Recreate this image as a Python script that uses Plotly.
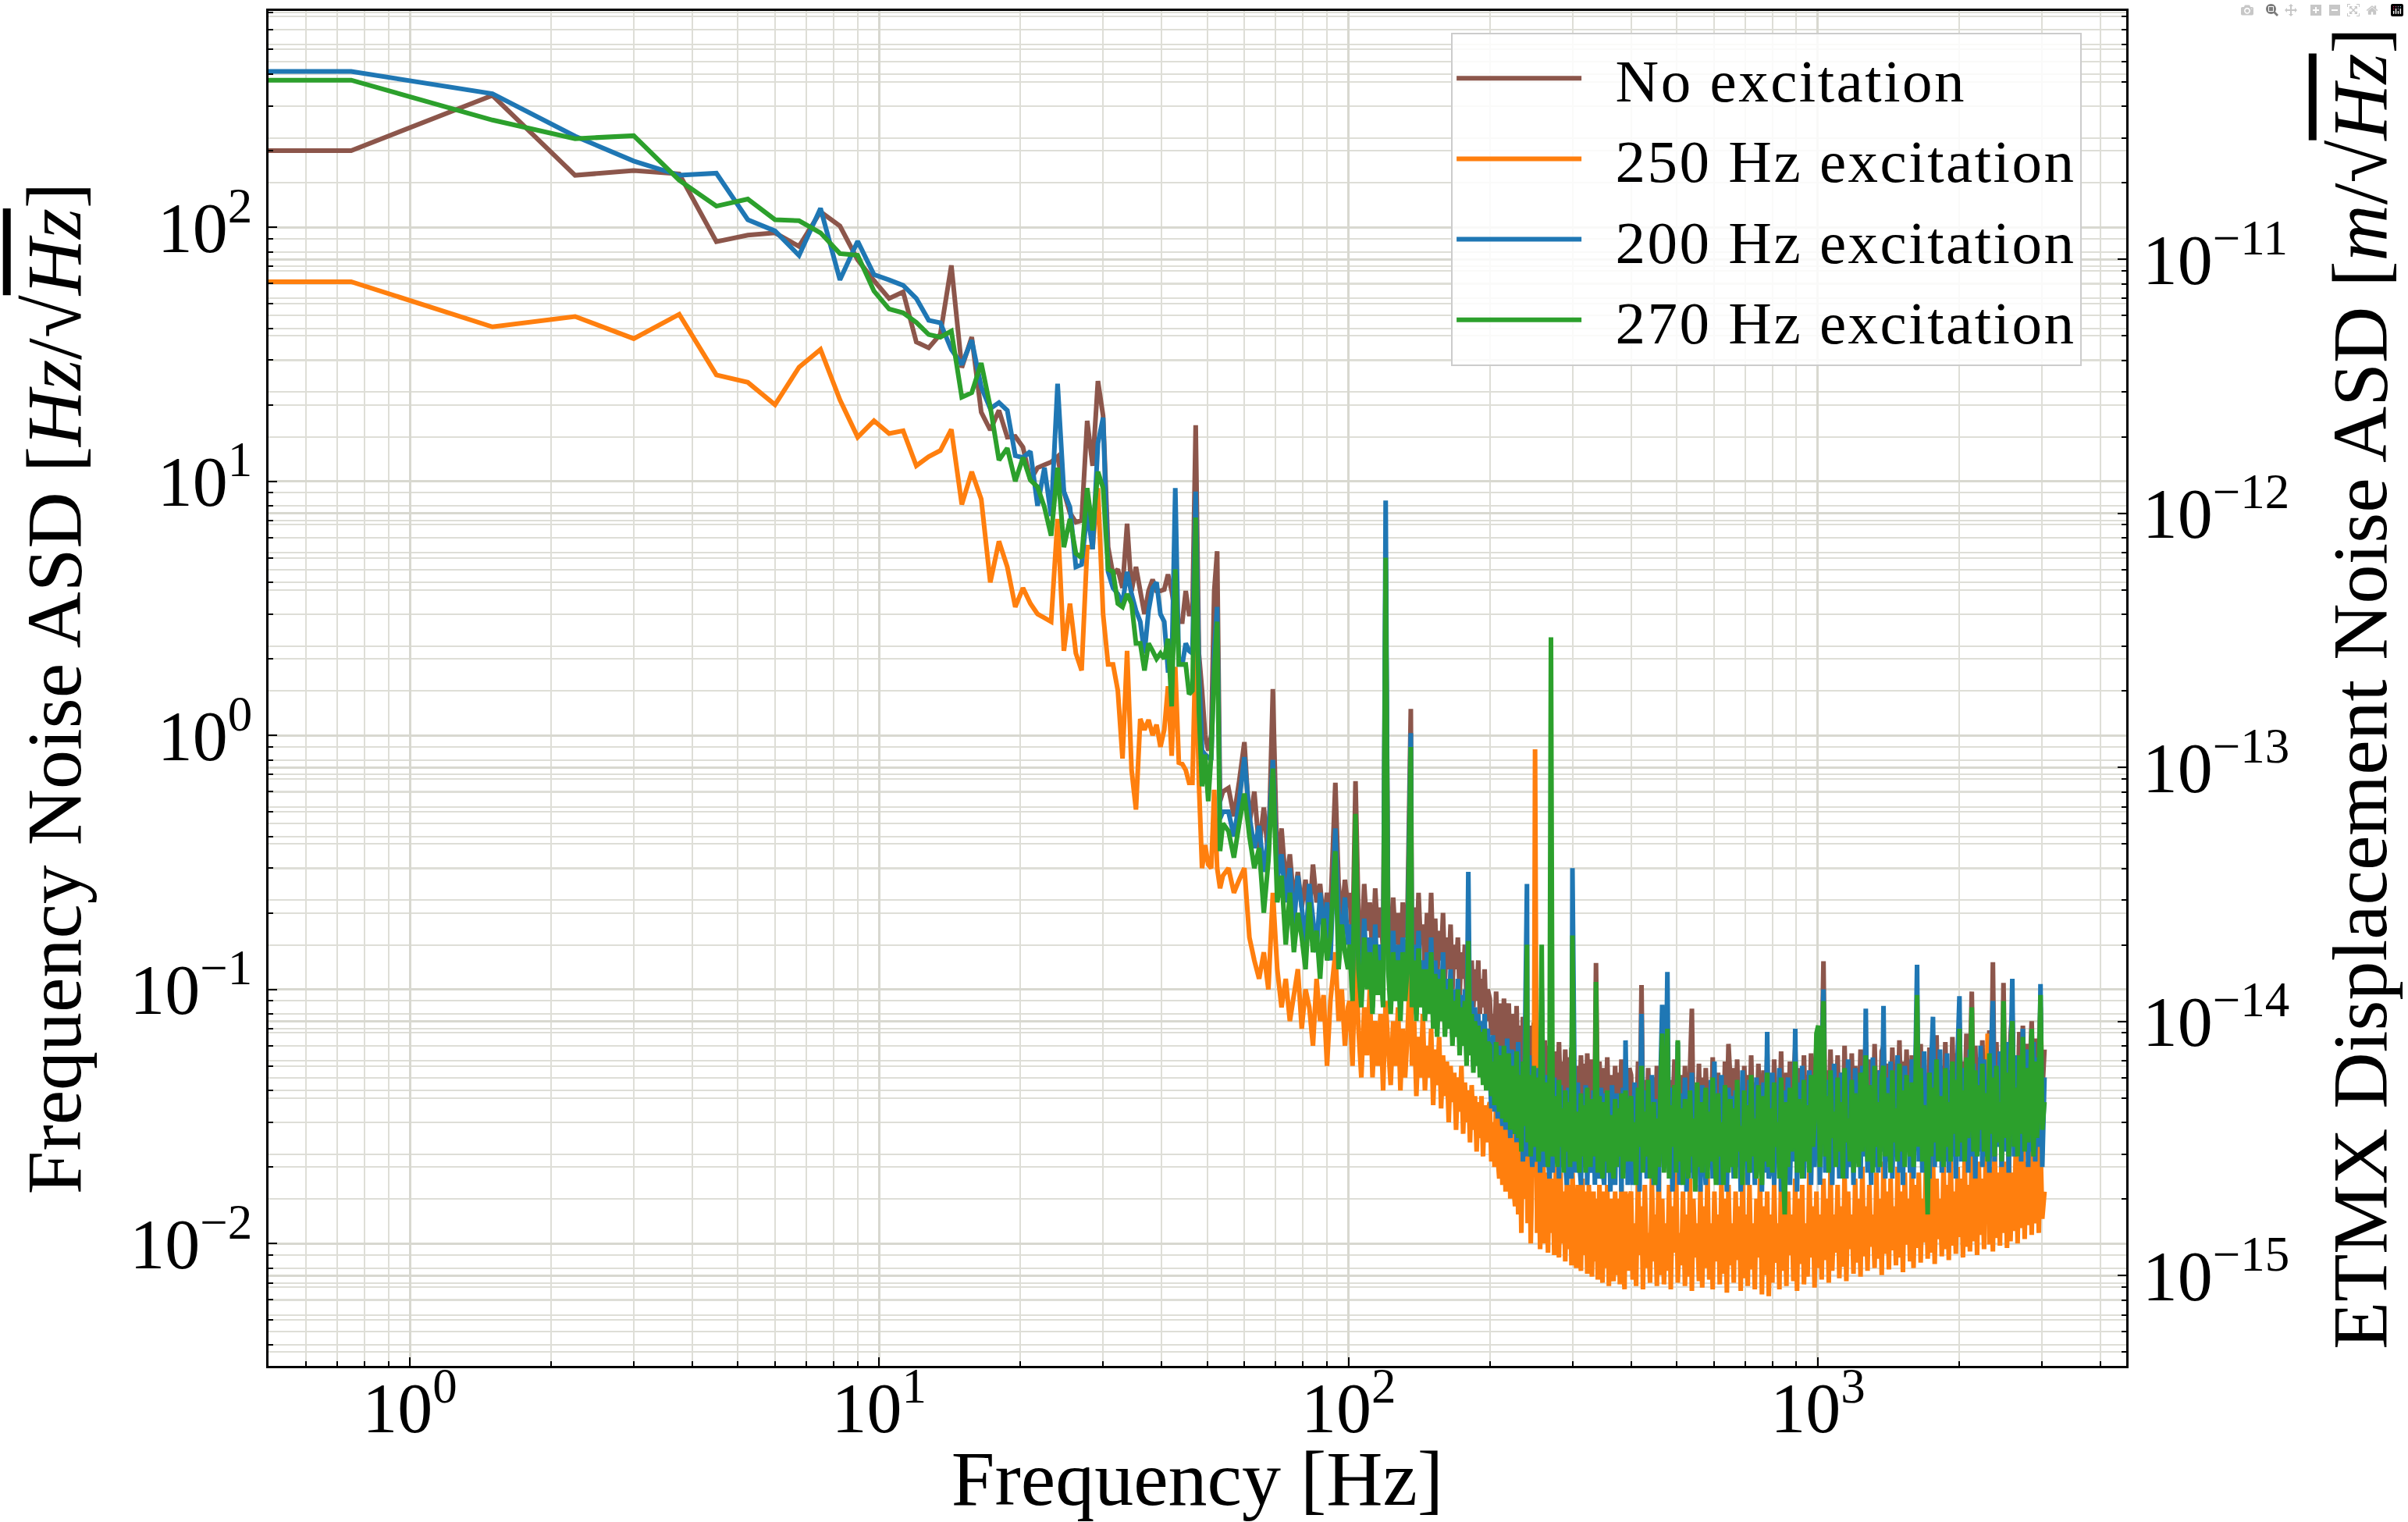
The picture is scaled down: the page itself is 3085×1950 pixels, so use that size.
import numpy as np
import plotly.graph_objects as go

# ---------------- data ----------------
# Low-frequency bins (0.75 Hz resolution); 0 Hz bin is clipped on the log axis like matplotlib does
freq_low = [0.0, 0.75, 1.5, 2.25, 3.0, 3.75, 4.5, 5.25, 6.0, 6.75,
            7.5, 8.25, 9.0, 9.75, 10.5, 11.25, 12.0, 12.75, 13.5, 14.25,
            15.0, 15.75, 16.5, 17.25, 18.0, 18.75, 19.5, 20.25, 21.0, 21.75,
            22.5, 23.25, 24.0, 24.75, 25.5, 26.25, 27.0, 27.75, 28.5, 29.25,
            30.0, 30.75, 31.5, 32.25, 33.0, 33.75, 34.5, 35.25, 36.0, 36.75,
            37.5, 38.25, 39.0, 39.75, 40.5, 41.25, 42.0, 42.75, 43.5, 44.25,
            45.0, 45.75, 46.5, 47.25, 48.0, 48.75, 49.5, 50.25, 51.0, 51.75,
            52.5, 53.25, 54.0]

no_exc_low = [200, 200, 330, 160, 167, 162, 87.7, 93, 95, 84,
              115, 101, 74.4, 61.6, 52.4, 55.6, 35.3, 33.5, 37.9, 70.7,
              28, 36.9, 18.7, 15.9, 19.0, 14.9, 15.0, 13.6, 10.1, 11.3,
              11.6, 11.9, 12.5, 9.1, 7.5, 6.9, 7.0, 17.3, 11.5, 24.8,
              18.1, 5.5, 4.3, 4.5, 3.8, 6.8, 3.7, 4.6, 3.7, 3.0,
              3.7, 4.1, 3.7, 3.7, 3.75, 4.3, 3.7, 3.0, 2.8, 2.8,
              3.7, 3.0, 3.0, 16.6, 2.1, 1.5, 1.0, 0.87, 1.0, 3.7,
              5.3, 0.55, 0.6]

exc250_low = [61, 61, 40.5, 44.5, 36.4, 45.4, 26.2, 24.5, 20.0, 28.1,
              33.0, 20.9, 14.9, 17.3, 15.4, 15.8, 11.5, 12.5, 13.2, 16.0,
              8.1, 10.9, 8.5, 4.0, 5.8, 4.6, 3.2, 3.8, 3.3, 3.0,
              2.9, 2.8, 7.1, 2.15, 3.3, 2.1, 1.8, 5.5, 5.5, 9.4,
              3.0, 1.9, 1.9, 1.5, 0.81, 2.15, 0.73, 0.51, 1.16, 1.05,
              1.15, 1.0, 1.1, 0.9, 1.05, 1.56, 0.83, 1.86, 0.78, 0.77,
              0.73, 0.65, 0.65, 2.3, 0.65, 0.30, 0.37, 0.31, 0.30, 0.61,
              0.30, 0.25, 0.28]

exc200_low = [410, 410, 335, 228, 182, 160, 163, 107, 96.6, 77.4,
              118.6, 62, 88, 65, 62, 59, 52.4, 43, 42, 33,
              28.8, 35.9, 23.5, 19.3, 20.4, 19.0, 12.6, 12.4, 13.1, 8.0,
              11.3, 7.3, 24.2, 9.1, 7.9, 4.6, 4.7, 7.6, 5.4, 14.1,
              17.8, 4.4, 3.8, 3.6, 3.3, 4.4, 3.6, 3.1, 2.8, 2.1,
              3.1, 3.8, 4.0, 3.0, 2.8, 1.8, 1.8, 9.4, 1.9, 1.9,
              2.3, 2.15, 2.1, 9.1, 1.8, 0.87, 0.84, 0.82, 0.8, 2.15,
              3.2, 0.47, 0.5]

exc270_low = [379, 379, 264, 223, 229, 153, 121, 129, 107, 106,
              95, 78.7, 77.5, 56, 47.6, 46, 42.2, 37.8, 36.9, 39,
              21.4, 22.3, 29.2, 19.6, 12.1, 13.5, 10.0, 12.4, 10.1, 9.5,
              7.9, 6.1, 11.3, 5.5, 7.1, 5.2, 5.0, 9.4, 6.4, 10.9,
              9.4, 4.5, 4.4, 3.3, 3.2, 3.6, 3.3, 2.3, 2.3, 1.8,
              2.3, 2.15, 2.0, 2.1, 2.0, 2.4, 1.3, 4.5, 1.9, 1.9,
              1.9, 1.45, 1.5, 7.2, 1.25, 0.63, 0.84, 0.55, 0.84, 1.8,
              2.8, 0.35, 0.45]

# 55-100 Hz
freq_mid = [
    55.5, 57.0, 58.5, 60.0, 61.5, 63.0, 64.5, 66.0, 67.5, 69.0,
    70.5, 72.0, 73.5, 75.0, 76.5, 78.0, 79.5, 81.0, 82.5, 84.0,
    85.5, 87.0, 88.5, 90.0, 91.5, 93.75, 95.25, 96.75, 98.25, 99.75]

no_exc_mid = [
    0.62, 0.48, 0.66, 0.94, 0.45, 0.60, 0.36, 0.52, 0.33, 1.52,
    0.30, 0.43, 0.26, 0.34, 0.22, 0.29, 0.21, 0.27, 0.19, 0.31,
    0.22, 0.26, 0.18, 0.24, 0.20, 0.65, 0.26, 0.19, 0.27, 0.21]

exc250_mid = [
    0.30, 0.24, 0.27, 0.30, 0.16, 0.13, 0.11, 0.14, 0.10, 0.24,
    0.12, 0.085, 0.11, 0.075, 0.095, 0.12, 0.07, 0.10, 0.085, 0.06,
    0.11, 0.075, 0.095, 0.05, 0.09, 0.14, 0.075, 0.10, 0.06, 0.085]

exc200_mid = [
    0.50, 0.40, 0.55, 0.82, 0.48, 0.36, 0.44, 0.29, 0.40, 0.80,
    0.27, 0.34, 0.22, 0.30, 0.18, 0.28, 0.21, 0.15, 0.26, 0.19,
    0.14, 0.24, 0.17, 0.22, 0.13, 0.43, 0.20, 0.16, 0.23, 0.15]

exc270_mid = [
    0.42, 0.33, 0.45, 0.59, 0.40, 0.30, 0.36, 0.20, 0.32, 0.74,
    0.22, 0.28, 0.15, 0.24, 0.14, 0.20, 0.16, 0.12, 0.22, 0.14,
    0.17, 0.11, 0.19, 0.13, 0.16, 0.35, 0.12, 0.18, 0.14, 0.12]

# 100-200 Hz
freq_band = [
    100.5, 102.0, 103.5, 105.0, 106.5, 108.0, 109.5, 111.0, 112.5, 114.0,
    115.5, 117.0, 118.5, 120.0, 121.5, 123.0, 124.5, 126.0, 127.5, 129.0,
    130.5, 132.0, 133.5, 135.75, 136.5, 138.0, 139.5, 141.0, 142.5, 144.0,
    145.5, 147.0, 148.5, 150.0, 151.5, 153.0, 154.5, 156.0, 157.5, 159.0,
    160.5, 162.0, 163.5, 165.0, 166.5, 168.0, 169.5, 171.0, 172.5, 174.0,
    175.5, 177.0, 178.5, 180.0, 181.5, 183.0, 184.5, 186.0, 187.5, 189.0,
    190.5, 192.0, 193.5, 195.0, 196.5, 198.0]

no_exc_band = [
    0.24, 0.15, 0.66, 0.20, 0.14, 0.26, 0.17, 0.22, 0.13, 0.25,
    0.16, 0.21, 0.14, 4.50, 0.19, 0.13, 0.23, 0.15, 0.20, 0.12,
    0.22, 0.16, 0.19, 1.27, 0.14, 0.21, 0.12, 0.24, 0.15, 0.18,
    0.12, 0.20, 0.14, 0.24, 0.13, 0.19, 0.11, 0.17, 0.13, 0.20,
    0.11, 0.16, 0.12, 0.18, 0.10, 0.15, 0.12, 0.16, 0.095, 0.14,
    0.11, 0.15, 0.09, 0.14, 0.10, 0.13, 0.085, 0.12, 0.09, 0.13,
    0.08, 0.11, 0.085, 0.12, 0.075, 0.10]

exc250_band = [
    0.09, 0.05, 0.15, 0.07, 0.045, 0.085, 0.055, 0.10, 0.045, 0.075,
    0.05, 0.08, 0.04, 0.09, 0.06, 0.042, 0.075, 0.05, 0.085, 0.04,
    0.07, 0.045, 0.065, 0.15, 0.05, 0.075, 0.038, 0.065, 0.045, 0.08,
    0.04, 0.06, 0.045, 0.07, 0.035, 0.058, 0.042, 0.065, 0.034, 0.055,
    0.038, 0.052, 0.03, 0.05, 0.036, 0.047, 0.028, 0.045, 0.033, 0.05,
    0.027, 0.043, 0.03, 0.04, 0.025, 0.042, 0.028, 0.038, 0.023, 0.036,
    0.026, 0.038, 0.022, 0.035, 0.025, 0.033]

exc200_band = [
    0.18, 0.10, 0.35, 0.14, 0.09, 0.19, 0.11, 0.16, 0.085, 0.18,
    0.10, 0.15, 0.09, 8.40, 0.14, 0.085, 0.17, 0.10, 0.15, 0.08,
    0.16, 0.10, 0.14, 1.02, 0.09, 0.15, 0.08, 0.17, 0.095, 0.13,
    0.08, 0.14, 0.09, 0.16, 0.075, 0.13, 0.07, 0.12, 0.08, 0.14,
    0.07, 0.11, 0.075, 0.12, 0.065, 0.10, 0.07, 0.11, 0.06, 0.095,
    0.065, 0.10, 0.055, 0.29, 0.06, 0.09, 0.05, 0.085, 0.055, 0.08,
    0.05, 0.075, 0.045, 0.08, 0.045, 0.07]

exc270_band = [
    0.15, 0.09, 0.49, 0.12, 0.085, 0.16, 0.10, 0.14, 0.08, 0.15,
    0.095, 0.13, 0.085, 5.00, 0.12, 0.08, 0.14, 0.09, 0.13, 0.075,
    0.14, 0.09, 0.12, 0.90, 0.085, 0.13, 0.075, 0.145, 0.085, 0.12,
    0.075, 0.12, 0.08, 0.14, 0.07, 0.115, 0.065, 0.11, 0.075, 0.12,
    0.065, 0.10, 0.07, 0.11, 0.06, 0.09, 0.065, 0.10, 0.055, 0.085,
    0.06, 0.09, 0.05, 0.155, 0.055, 0.08, 0.047, 0.075, 0.05, 0.072,
    0.045, 0.068, 0.042, 0.07, 0.04, 0.062]

# 200-400 Hz
freq_upper = [
    200.0, 201.5, 203.1, 204.7, 206.3, 207.9, 209.5, 211.1, 212.8, 214.4,
    216.1, 217.8, 219.5, 221.2, 222.9, 224.6, 226.4, 228.1, 229.9, 231.7,
    233.5, 235.3, 237.1, 240.0, 240.8, 242.7, 244.5, 246.4, 248.3, 249.75,
    252.2, 254.1, 256.0, 258.0, 260.0, 262.0, 264.0, 266.1, 268.1, 270.0,
    272.3, 274.4, 276.5, 278.7, 280.8, 283.0, 285.2, 287.4, 289.6, 291.9,
    294.1, 296.4, 298.6, 300.0, 303.3, 305.6, 308.0, 310.4, 312.8, 315.2,
    317.6, 320.1, 322.6, 325.1, 327.6, 330.1, 332.7, 334.9, 336.75, 339.8,
    342.5, 345.1, 347.8, 350.5, 353.2, 355.9, 358.7, 361.4, 364.3, 367.1,
    369.9, 372.8, 375.7, 378.6, 381.5, 384.5, 387.4, 389.25, 393.5, 396.6]

no_exc_upper = [
    0.092, 0.066, 0.080, 0.062, 0.098, 0.064, 0.058, 0.088, 0.056, 0.092,
    0.054, 0.078, 0.088, 0.051, 0.080, 0.055, 0.049, 0.086, 0.048, 0.072,
    0.043, 0.078, 0.047, 0.065, 0.044, 0.072, 0.041, 0.062, 0.074, 0.042,
    0.066, 0.040, 0.055, 0.048, 0.039, 0.063, 0.042, 0.037, 0.060, 0.045,
    0.038, 0.057, 0.041, 0.036, 0.062, 0.039, 0.052, 0.035, 0.058, 0.037,
    0.054, 0.034, 0.059, 0.045, 0.033, 0.050, 0.037, 0.032, 0.055, 0.035,
    0.051, 0.032, 0.056, 0.036, 0.031, 0.053, 0.034, 0.045, 0.127, 0.031,
    0.052, 0.034, 0.030, 0.049, 0.033, 0.054, 0.031, 0.046, 0.036, 0.030,
    0.050, 0.032, 0.047, 0.034, 0.053, 0.030, 0.044, 0.048, 0.032, 0.049]

exc250_upper = [
    0.036, 0.021, 0.030, 0.020, 0.037, 0.022, 0.018, 0.032, 0.017, 0.034,
    0.016, 0.026, 0.033, 0.015, 0.029, 0.017, 0.014, 0.032, 0.013, 0.027,
    0.011, 0.030, 0.015, 0.022, 0.012, 0.028, 0.010, 0.020, 0.026, 0.880,
    0.011, 0.021, 0.0095, 0.017, 0.022, 0.010, 0.019, 0.0092, 0.021, 0.011,
    0.018, 0.0090, 0.020, 0.012, 0.0088, 0.019, 0.010, 0.016, 0.0085, 0.018,
    0.0095, 0.017, 0.0082, 0.019, 0.011, 0.0080, 0.017, 0.0095, 0.0078, 0.018,
    0.0090, 0.016, 0.0076, 0.017, 0.0100, 0.0074, 0.016, 0.0085, 0.015, 0.0072,
    0.017, 0.0088, 0.0070, 0.016, 0.0080, 0.017, 0.0068, 0.015, 0.0090, 0.0071,
    0.016, 0.0075, 0.015, 0.0069, 0.017, 0.0082, 0.0066, 0.016, 0.0078, 0.015]

exc200_upper = [
    0.048, 0.034, 0.066, 0.033, 0.052, 0.031, 0.060, 0.036, 0.029, 0.056,
    0.028, 0.064, 0.038, 0.026, 0.058, 0.029, 0.048, 0.025, 0.062, 0.026,
    0.050, 0.021, 0.043, 0.260, 0.022, 0.055, 0.026, 0.020, 0.047, 0.021,
    0.024, 0.049, 0.019, 0.100, 0.040, 0.020, 0.046, 0.022, 0.018, 0.042,
    0.019, 0.045, 0.021, 0.037, 0.018, 0.042, 0.020, 0.039, 0.021, 0.017,
    0.041, 0.023, 0.018, 0.300, 0.036, 0.019, 0.043, 0.021, 0.017, 0.038,
    0.020, 0.042, 0.017, 0.035, 0.022, 0.019, 0.040, 0.017, 0.060, 0.021,
    0.018, 0.041, 0.020, 0.017, 0.039, 0.019, 0.034, 0.016, 0.042, 0.020,
    0.017, 0.039, 0.021, 0.036, 0.016, 0.041, 0.019, 0.063, 0.017, 0.038]

exc270_upper = [
    0.060, 0.038, 0.052, 0.035, 0.062, 0.040, 0.033, 0.055, 0.031, 0.060,
    0.030, 0.045, 0.056, 0.028, 0.050, 0.033, 0.027, 0.057, 0.026, 0.046,
    0.023, 0.052, 0.029, 0.150, 0.025, 0.046, 0.022, 0.040, 0.050, 0.024,
    0.045, 0.021, 0.035, 0.150, 0.023, 0.043, 0.026, 0.020, 0.041, 2.430,
    0.022, 0.038, 0.027, 0.020, 0.044, 0.024, 0.034, 0.019, 0.040, 0.023,
    0.036, 0.020, 0.042, 0.163, 0.021, 0.033, 0.025, 0.019, 0.039, 0.022,
    0.035, 0.019, 0.041, 0.024, 0.020, 0.037, 0.022, 0.030, 0.107, 0.019,
    0.038, 0.023, 0.018, 0.036, 0.021, 0.040, 0.019, 0.032, 0.024, 0.018,
    0.037, 0.020, 0.034, 0.022, 0.039, 0.018, 0.031, 0.040, 0.021, 0.035]

# 400-3040 Hz: dense noise floor with its spikes
freq_high = [
    400, 403, 407, 410, 414, 417, 421, 424, 428, 432,
    435, 439, 443, 447, 450, 454, 458, 462, 466, 470,
    474, 478, 482, 486, 490, 495, 499, 503, 507, 512,
    516, 521, 525, 530, 534, 539, 543, 548, 553, 558,
    562, 567, 572, 577, 582, 587, 592, 597, 602, 607,
    613, 618, 623, 629, 634, 640, 645, 651, 656, 662,
    668, 673, 679, 685, 691, 697, 703, 709, 715, 721,
    728, 734, 740, 747, 753, 760, 766, 773, 780, 786,
    793, 800, 807, 814, 821, 828, 835, 842, 850, 857,
    864, 872, 880, 887, 895, 903, 910, 918, 926, 934,
    943, 951, 959, 967, 976, 984, 993, 1002, 1010, 1019,
    1028, 1037, 1046, 1055, 1064, 1073, 1083, 1092, 1102, 1111,
    1121, 1131, 1140, 1150, 1160, 1170, 1181, 1191, 1201, 1212,
    1222, 1233, 1244, 1254, 1265, 1276, 1287, 1299, 1310, 1321,
    1333, 1345, 1356, 1368, 1380, 1392, 1404, 1417, 1429, 1441,
    1454, 1467, 1479, 1492, 1505, 1518, 1532, 1545, 1558, 1572,
    1586, 1599, 1613, 1627, 1641, 1656, 1670, 1684, 1699, 1714,
    1729, 1744, 1759, 1774, 1790, 1805, 1821, 1837, 1853, 1869,
    1885, 1901, 1918, 1935, 1951, 1968, 1985, 2003, 2020, 2038,
    2055, 2073, 2091, 2109, 2128, 2146, 2165, 2184, 2202, 2222,
    2241, 2260, 2280, 2300, 2320, 2340, 2360, 2380, 2401, 2422,
    2443, 2464, 2486, 2507, 2529, 2551, 2573, 2596, 2618, 2641,
    2664, 2687, 2711, 2734, 2758, 2782, 2806, 2831, 2855, 2880,
    2905, 2930, 2956, 2981, 3007, 3040]

no_exc_high = [
    0.046, 0.027, 0.041, 0.029, 0.052, 0.026, 0.104, 0.030, 0.044, 0.027,
    0.049, 0.028, 0.038, 0.045, 0.026, 0.050, 0.029, 0.043, 0.035, 0.027,
    0.047, 0.060, 0.028, 0.044, 0.031, 0.053, 0.026, 0.040, 0.029, 0.046,
    0.027, 0.050, 0.033, 0.026, 0.048, 0.084, 0.030, 0.042, 0.027, 0.051,
    0.029, 0.045, 0.026, 0.049, 0.032, 0.043, 0.027, 0.054, 0.030, 0.026,
    0.047, 0.028, 0.041, 0.026, 0.052, 0.031, 0.061, 0.044, 0.027, 0.049,
    0.029, 0.053, 0.031, 0.040, 0.027, 0.050, 0.028, 0.046, 0.030, 0.055,
    0.028, 0.043, 0.027, 0.051, 0.033, 0.026, 0.048, 0.029, 0.056, 0.028,
    0.045, 0.027, 0.053, 0.031, 0.041, 0.028, 0.057, 0.030, 0.026, 0.047,
    0.028, 0.052, 0.031, 0.044, 0.059, 0.027, 0.049, 0.033, 0.029, 0.055,
    0.030, 0.046, 0.028, 0.056, 0.032, 0.042, 0.060, 0.053, 0.029, 0.051,
    0.129, 0.031, 0.048, 0.029, 0.058, 0.034, 0.045, 0.030, 0.055, 0.032,
    0.047, 0.029, 0.060, 0.033, 0.043, 0.030, 0.056, 0.029, 0.050, 0.035,
    0.031, 0.058, 0.032, 0.046, 0.062, 0.030, 0.053, 0.034, 0.030, 0.061,
    0.033, 0.048, 0.031, 0.057, 0.060, 0.032, 0.051, 0.036, 0.031, 0.059,
    0.034, 0.046, 0.032, 0.063, 0.033, 0.052, 0.031, 0.058, 0.038, 0.032,
    0.055, 0.031, 0.049, 0.070, 0.034, 0.061, 0.032, 0.047, 0.036, 0.030,
    0.059, 0.033, 0.053, 0.036, 0.066, 0.032, 0.050, 0.038, 0.031, 0.062,
    0.035, 0.048, 0.032, 0.065, 0.037, 0.056, 0.033, 0.074, 0.036, 0.052,
    0.033, 0.067, 0.037, 0.049, 0.098, 0.034, 0.060, 0.033, 0.054, 0.039,
    0.063, 0.034, 0.051, 0.033, 0.069, 0.038, 0.128, 0.034, 0.062, 0.036,
    0.048, 0.033, 0.106, 0.037, 0.059, 0.034, 0.066, 0.080, 0.035, 0.053,
    0.034, 0.068, 0.038, 0.072, 0.035, 0.061, 0.037, 0.050, 0.075, 0.034,
    0.064, 0.038, 0.056, 0.085, 0.039, 0.058]

exc250_high = [
    0.016, 0.0072, 0.012, 0.0068, 0.019, 0.0090, 0.014, 0.0066, 0.017, 0.0080,
    0.011, 0.0070, 0.018, 0.0085, 0.013, 0.0068, 0.020, 0.0075, 0.015, 0.0069,
    0.012, 0.0078, 0.017, 0.0066, 0.014, 0.0092, 0.019, 0.0070, 0.011, 0.0082,
    0.016, 0.0068, 0.013, 0.0074, 0.018, 0.0065, 0.015, 0.0088, 0.012, 0.0071,
    0.017, 0.0067, 0.014, 0.0080, 0.019, 0.0072, 0.012, 0.0066, 0.016, 0.0085,
    0.013, 0.0069, 0.018, 0.0076, 0.015, 0.0064, 0.017, 0.0082, 0.012, 0.0070,
    0.016, 0.0086, 0.014, 0.0065, 0.019, 0.0073, 0.013, 0.0068, 0.017, 0.0079,
    0.012, 0.0066, 0.015, 0.0088, 0.018, 0.0063, 0.014, 0.0075, 0.016, 0.0062,
    0.013, 0.0070, 0.017, 0.0084, 0.012, 0.0066, 0.019, 0.0078, 0.014, 0.0068,
    0.016, 0.0090, 0.013, 0.0071, 0.018, 0.0065, 0.015, 0.0083, 0.017, 0.0069,
    0.012, 0.0074, 0.019, 0.0088, 0.014, 0.0067, 0.016, 0.0080, 0.013, 0.0072,
    0.018, 0.0086, 0.015, 0.0070, 0.020, 0.0078, 0.013, 0.0092, 0.017, 0.0073,
    0.014, 0.0081, 0.019, 0.0071, 0.016, 0.0095, 0.013, 0.0076, 0.018, 0.0084,
    0.015, 0.0074, 0.020, 0.0089, 0.014, 0.0078, 0.017, 0.0097, 0.013, 0.0080,
    0.019, 0.0087, 0.015, 0.0075, 0.021, 0.0091, 0.016, 0.0079, 0.018, 0.0094,
    0.014, 0.0082, 0.020, 0.0088, 0.016, 0.0077, 0.019, 0.0099, 0.015, 0.0085,
    0.021, 0.0080, 0.017, 0.0096, 0.019, 0.0084, 0.015, 0.0101, 0.020, 0.0087,
    0.016, 0.0092, 0.022, 0.0083, 0.018, 0.0104, 0.015, 0.0089, 0.021, 0.0095,
    0.017, 0.0086, 0.023, 0.0098, 0.016, 0.0091, 0.020, 0.0106, 0.018, 0.0088,
    0.022, 0.0097, 0.017, 0.0093, 0.024, 0.0102, 0.019, 0.0090, 0.021, 0.0108,
    0.018, 0.0095, 0.023, 0.067, 0.0099, 0.020, 0.0093, 0.025, 0.0105, 0.019,
    0.0098, 0.024, 0.0110, 0.021, 0.0096, 0.026, 0.0102, 0.019, 0.0112, 0.024,
    0.0100, 0.022, 0.0115, 0.027, 0.0104, 0.021, 0.0118, 0.025, 0.0108, 0.023,
    0.0120, 0.026, 0.0110, 0.024, 0.0125, 0.016]

exc200_high = [
    0.030, 0.017, 0.043, 0.020, 0.035, 0.016, 0.080, 0.022, 0.040, 0.018,
    0.032, 0.021, 0.046, 0.017, 0.037, 0.024, 0.016, 0.044, 0.087, 0.020,
    0.036, 0.117, 0.019, 0.041, 0.016, 0.034, 0.022, 0.062, 0.017, 0.039,
    0.023, 0.045, 0.016, 0.033, 0.019, 0.047, 0.018, 0.038, 0.021, 0.035,
    0.016, 0.042, 0.024, 0.017, 0.036, 0.020, 0.044, 0.018, 0.052, 0.021,
    0.031, 0.017, 0.046, 0.019, 0.035, 0.016, 0.041, 0.023, 0.038, 0.018,
    0.040, 0.020, 0.034, 0.016, 0.048, 0.022, 0.030, 0.017, 0.044, 0.019,
    0.037, 0.017, 0.045, 0.021, 0.033, 0.016, 0.043, 0.019, 0.068, 0.018,
    0.020, 0.047, 0.017, 0.036, 0.022, 0.049, 0.016, 0.040, 0.018, 0.031,
    0.045, 0.017, 0.038, 0.021, 0.070, 0.016, 0.043, 0.019, 0.050, 0.018,
    0.036, 0.022, 0.048, 0.017, 0.041, 0.020, 0.035, 0.046, 0.017, 0.052,
    0.100, 0.019, 0.044, 0.021, 0.039, 0.017, 0.051, 0.023, 0.036, 0.018,
    0.047, 0.022, 0.034, 0.018, 0.053, 0.020, 0.040, 0.017, 0.049, 0.021,
    0.043, 0.018, 0.050, 0.022, 0.084, 0.019, 0.037, 0.017, 0.054, 0.020,
    0.041, 0.019, 0.048, 0.023, 0.086, 0.018, 0.045, 0.021, 0.052, 0.018,
    0.039, 0.022, 0.055, 0.019, 0.044, 0.017, 0.050, 0.024, 0.038, 0.019,
    0.053, 0.018, 0.046, 0.125, 0.021, 0.041, 0.019, 0.057, 0.022, 0.040,
    0.018, 0.050, 0.078, 0.020, 0.045, 0.023, 0.058, 0.019, 0.042, 0.021,
    0.056, 0.019, 0.047, 0.022, 0.040, 0.018, 0.055, 0.094, 0.021, 0.049,
    0.024, 0.043, 0.019, 0.058, 0.022, 0.051, 0.018, 0.046, 0.023, 0.060,
    0.020, 0.053, 0.022, 0.044, 0.019, 0.059, 0.090, 0.021, 0.048, 0.024,
    0.057, 0.020, 0.050, 0.023, 0.062, 0.019, 0.046, 0.110, 0.022, 0.055,
    0.025, 0.048, 0.021, 0.070, 0.024, 0.058, 0.020, 0.051, 0.023, 0.062,
    0.021, 0.054, 0.024, 0.105, 0.020, 0.045]

exc270_high = [
    0.038, 0.021, 0.030, 0.017, 0.041, 0.024, 0.050, 0.019, 0.033, 0.022,
    0.044, 0.018, 0.027, 0.036, 0.017, 0.031, 0.020, 0.039, 0.067, 0.019,
    0.029, 0.070, 0.018, 0.035, 0.024, 0.042, 0.019, 0.063, 0.021, 0.034,
    0.017, 0.037, 0.026, 0.018, 0.040, 0.022, 0.031, 0.016, 0.043, 0.020,
    0.036, 0.019, 0.028, 0.041, 0.018, 0.033, 0.021, 0.045, 0.024, 0.017,
    0.039, 0.022, 0.030, 0.017, 0.042, 0.026, 0.019, 0.037, 0.020, 0.034,
    0.018, 0.044, 0.023, 0.029, 0.017, 0.040, 0.021, 0.035, 0.019, 0.046,
    0.022, 0.031, 0.018, 0.042, 0.025, 0.017, 0.038, 0.021, 0.047, 0.020,
    0.034, 0.019, 0.043, 0.024, 0.030, 0.018, 0.045, 0.022, 0.013, 0.036,
    0.020, 0.041, 0.023, 0.032, 0.052, 0.019, 0.037, 0.025, 0.018, 0.044,
    0.021, 0.035, 0.019, 0.046, 0.024, 0.030, 0.067, 0.072, 0.020, 0.040,
    0.090, 0.022, 0.038, 0.019, 0.048, 0.026, 0.033, 0.020, 0.045, 0.023,
    0.036, 0.018, 0.049, 0.025, 0.031, 0.021, 0.044, 0.019, 0.039, 0.027,
    0.020, 0.047, 0.023, 0.034, 0.055, 0.021, 0.042, 0.026, 0.019, 0.050,
    0.024, 0.036, 0.020, 0.045, 0.050, 0.022, 0.039, 0.028, 0.019, 0.048,
    0.025, 0.034, 0.021, 0.051, 0.023, 0.040, 0.020, 0.046, 0.029, 0.022,
    0.043, 0.020, 0.037, 0.095, 0.024, 0.049, 0.021, 0.035, 0.026, 0.013,
    0.047, 0.022, 0.041, 0.025, 0.053, 0.021, 0.038, 0.028, 0.020, 0.049,
    0.024, 0.036, 0.021, 0.052, 0.027, 0.044, 0.022, 0.070, 0.025, 0.040,
    0.021, 0.054, 0.026, 0.037, 0.085, 0.023, 0.048, 0.022, 0.042, 0.028,
    0.051, 0.023, 0.039, 0.021, 0.056, 0.027, 0.045, 0.022, 0.050, 0.025,
    0.036, 0.021, 0.090, 0.026, 0.047, 0.022, 0.053, 0.075, 0.024, 0.041,
    0.022, 0.055, 0.027, 0.065, 0.023, 0.049, 0.025, 0.038, 0.070, 0.022,
    0.052, 0.026, 0.044, 0.095, 0.028, 0.036]

series_names = ["No excitation", "250 Hz excitation", "200 Hz excitation", "270 Hz excitation"]
series_colors = ["#8c564b", "#ff7f0e", "#1f77b4", "#2ca02c"]

ETMX_M_PER_HZ = 1.337e-13

x_tickvals = [1, 10, 100, 1000]
x_ticktext = ["10<sup>0</sup>", "10<sup>1</sup>", "10<sup>2</sup>", "10<sup>3</sup>"]
y_tickvals = [1e-2, 1e-1, 1, 10, 100]
y_ticktext = ["10<sup>\u22122</sup>", "10<sup>\u22121</sup>", "10<sup>0</sup>", "10<sup>1</sup>", "10<sup>2</sup>"]
y2_tickvals = [1e-15, 1e-14, 1e-13, 1e-12, 1e-11]
y2_ticktext = ["10<sup>\u221215</sup>", "10<sup>\u221214</sup>", "10<sup>\u221213</sup>",
               "10<sup>\u221212</sup>", "10<sup>\u221211</sup>"]

segments = [
    (freq_low, [no_exc_low, exc250_low, exc200_low, exc270_low]),
    (freq_mid, [no_exc_mid, exc250_mid, exc200_mid, exc270_mid]),
    (freq_band, [no_exc_band, exc250_band, exc200_band, exc270_band]),
    (freq_upper, [no_exc_upper, exc250_upper, exc200_upper, exc270_upper]),
    (freq_high, [no_exc_high, exc250_high, exc200_high, exc270_high]),
]
for f_seg, vals_seg in segments:
    for arr in vals_seg:
        assert len(arr) == len(f_seg), (len(arr), len(f_seg))

freq = np.array(sum((list(s[0]) for s in segments), []), dtype=float)
freq_plot = np.where(freq > 0, freq, 1e-3)  # matplotlib-style clipping of the DC bin
all_series = [sum((list(s[1][k]) for s in segments), []) for k in range(4)]

FONT = "Liberation Serif"
GRID = "#d8d8d0"
GRID_MINOR = "#deded7"

fig = go.Figure()
# invisible companion trace carrying the displacement axis
fig.add_trace(go.Scatter(x=freq_plot, y=np.array(all_series[0]) * ETMX_M_PER_HZ, yaxis="y2",
                         mode="lines", line=dict(width=0, color="rgba(0,0,0,0)"),
                         showlegend=False, hoverinfo="skip"))
for name, color, vals in zip(series_names, series_colors, all_series):
    fig.add_trace(go.Scatter(
        x=freq_plot, y=vals, mode="lines",
        name="\u00a0\u00a0<span style='letter-spacing:2.5px'>" + name + "</span>",
        line=dict(color=color, width=6, simplify=False)))

minor_common = dict(ticks="inside", ticklen=6, tickwidth=1.5, tickcolor="black",
                    showgrid=True, gridcolor=GRID_MINOR, gridwidth=2, dtick="D1")

fig.update_layout(
    width=3085, height=1950,
    margin=dict(l=344, r=361, t=14, b=200, autoexpand=False),
    paper_bgcolor="white", plot_bgcolor="white",
    font=dict(family=FONT, size=90, color="black"),
    legend=dict(x=0.6366, y=0.984, xanchor="left", yanchor="top",
                bgcolor="rgba(255,255,255,0.85)", bordercolor="#cccccc", borderwidth=2,
                font=dict(family=FONT, size=77), itemwidth=160, tracegroupgap=0),
    xaxis=dict(type="log", range=[np.log10(0.5), 3.657],
               showline=True, linecolor="black", linewidth=2.5, mirror=True,
               ticks="inside", ticklen=11, tickwidth=2, tickcolor="black",
               tickmode="array", tickvals=x_tickvals, ticktext=x_ticktext,
               tickfont=dict(family=FONT, size=90), ticklabelstandoff=-26,
               showgrid=True, gridcolor=GRID, gridwidth=2.5, zeroline=False,
               minor=minor_common,
               title=dict(text="Frequency [Hz]", font=dict(family=FONT, size=100), standoff=60)),
    yaxis=dict(type="log", range=[-2.482, 2.851],
               showline=True, linecolor="black", linewidth=2.5,
               ticks="inside", ticklen=11, tickwidth=2, tickcolor="black",
               tickmode="array", tickvals=y_tickvals, ticktext=y_ticktext,
               tickfont=dict(family=FONT, size=90),
               showgrid=True, gridcolor=GRID, gridwidth=2.5, zeroline=False,
               minor=minor_common,
               title=dict(text="Frequency Noise ASD [<i>Hz</i>/\u221a<span style='text-decoration:overline'><i>Hz</i></span>]",
                          font=dict(family=FONT, size=100), standoff=30)),
    yaxis2=dict(type="log", range=[-15.356, -10.023], overlaying="y", side="right",
                showline=True, linecolor="black", linewidth=2.5,
                ticks="inside", ticklen=11, tickwidth=2, tickcolor="black",
                tickmode="array", tickvals=y2_tickvals, ticktext=y2_ticktext,
                tickfont=dict(family=FONT, size=90),
                showgrid=True, gridcolor=GRID, gridwidth=2.5, zeroline=False,
                minor=minor_common,
                title=dict(text="ETMX Displacement Noise ASD [<i>m</i>/\u221a<span style='text-decoration:overline'><i>Hz</i></span>]",
                           font=dict(family=FONT, size=100), standoff=55)),
)

fig.write_html("out.html", post_script="document.body.style.margin='0';")
